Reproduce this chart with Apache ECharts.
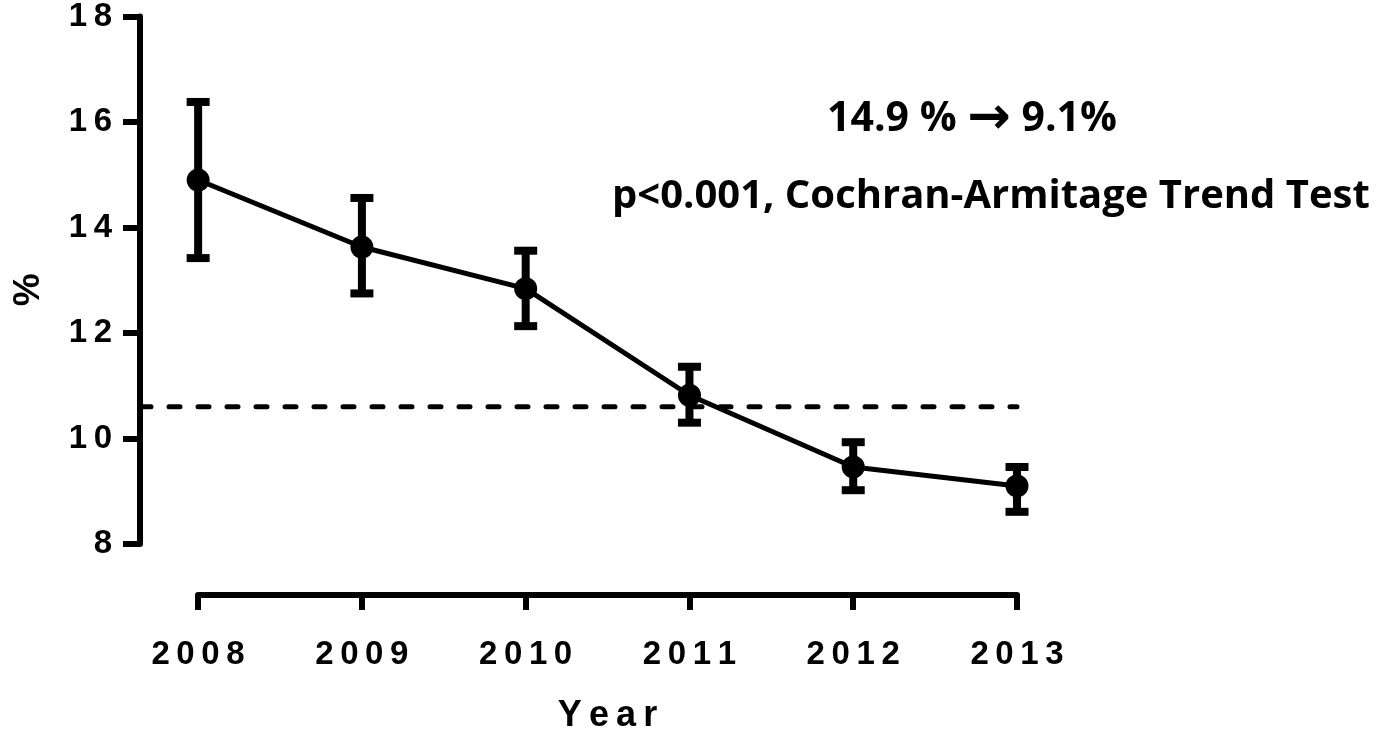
<!DOCTYPE html>
<html>
<head>
<meta charset="utf-8">
<script src="https://cdn.jsdelivr.net/npm/echarts@6/dist/echarts.min.js"></script>
<style>
  html, body { margin: 0; padding: 0; background: #fff; }
  #chart { width: 1377px; height: 739px; }
</style>
</head>
<body>
<div id="chart"></div>
<script>
// Annual prevalence (%) with 95% confidence limits
const years = [2008, 2009, 2010, 2011, 2012, 2013];
const rate = [14.9, 13.63, 12.84, 10.82, 9.46, 9.1];
const lower = [13.42, 12.75, 12.13, 10.30, 9.02, 8.61];
const upper = [16.38, 14.56, 13.56, 11.36, 9.93, 9.46];

// Plotted x range (a little padding before the first year) and reference level
const xRange = [2007.645, 2013];
const refLevel = 10.6;

// Y axis ticks
const yTicks = [8, 10, 12, 14, 16, 18];

const annotationTop = '14.9 % {arrow|\u2192} 9.1%';
const annotationBottom = 'p<0.001, Cochran-Armitage Trend Test';

// letter-spaced axis text
const spaced = s => String(s).split('').join('\u2009');

const chart = echarts.init(document.getElementById('chart'), null, { renderer: 'canvas' });

const axisFont = {
  fontFamily: '"Liberation Sans", Arial, sans-serif',
  fontWeight: 'bold',
  color: '#000'
};
const black = '#000';

const option = {
  backgroundColor: '#fff',
  animation: false,
  grid: [
    // plotting area, spans from the y axis
    { left: 140, right: 360, top: 16, bottom: 195, containLabel: false },
    // the detached year axis, from first to last year
    { left: 198, right: 360, top: 16, bottom: 195, containLabel: false }
  ],
  xAxis: [
    {
      gridIndex: 0,
      type: 'value',
      min: xRange[0],
      max: xRange[1],
      show: false
    },
    {
      gridIndex: 1,
      type: 'value',
      min: years[0],
      max: years[years.length - 1],
      interval: 1,
      offset: 59,
      name: spaced('Year'),
      nameLocation: 'middle',
      nameGap: 103,
      nameTextStyle: Object.assign({ fontSize: 36 }, axisFont),
      axisLine: { show: true, lineStyle: { color: black, width: 6 } },
      axisTick: { show: true, inside: false, length: 15, lineStyle: { color: black, width: 6 } },
      axisLabel: Object.assign({ fontSize: 33, margin: 43, formatter: v => spaced(v) }, axisFont),
      splitLine: { show: false }
    }
  ],
  yAxis: [
    {
      gridIndex: 0,
      type: 'value',
      min: yTicks[0],
      max: yTicks[yTicks.length - 1],
      interval: 2,
      name: '%',
      nameLocation: 'middle',
      nameGap: 93,
      nameTextStyle: Object.assign({ fontSize: 37, padding: [0, 19, 0, 0] }, axisFont),
      axisLine: { show: true, lineStyle: { color: black, width: 6 } },
      axisTick: { show: true, inside: false, length: 17, lineStyle: { color: black, width: 6 } },
      axisLabel: Object.assign({ fontSize: 33, margin: 28, formatter: v => spaced(v) }, axisFont),
      splitLine: { show: false }
    },
    {
      gridIndex: 1,
      type: 'value',
      min: yTicks[0],
      max: yTicks[yTicks.length - 1],
      show: false
    }
  ],
  series: [
    {
      name: 'reference',
      type: 'line',
      xAxisIndex: 0,
      yAxisIndex: 0,
      silent: true,
      symbol: 'none',
      data: xRange.map(x => [x, refLevel]),
      lineStyle: { color: black, width: 5, type: [11, 18], cap: 'round' },
      z: 1
    },
    {
      name: 'ci',
      type: 'custom',
      xAxisIndex: 0,
      yAxisIndex: 0,
      clip: false,
      silent: true,
      data: years.map((y, i) => [y, lower[i], upper[i]]),
      renderItem: (params, api) => {
        const lo = api.coord([api.value(0), api.value(1)]);
        const hi = api.coord([api.value(0), api.value(2)]);
        const half = 11.5;
        const style = { stroke: black, lineWidth: 8, fill: null };
        return {
          type: 'group',
          children: [
            { type: 'line', shape: { x1: lo[0], y1: lo[1], x2: hi[0], y2: hi[1] }, style: style },
            { type: 'line', shape: { x1: lo[0] - half, y1: lo[1], x2: lo[0] + half, y2: lo[1] }, style: style },
            { type: 'line', shape: { x1: hi[0] - half, y1: hi[1], x2: hi[0] + half, y2: hi[1] }, style: style }
          ]
        };
      },
      z: 2
    },
    {
      name: 'rate',
      type: 'line',
      xAxisIndex: 0,
      yAxisIndex: 0,
      clip: false,
      symbol: 'circle',
      symbolSize: 23,
      data: years.map((y, i) => [y, rate[i]]),
      lineStyle: { color: black, width: 5 },
      itemStyle: { color: black },
      z: 3
    }
  ],
  graphic: [
    {
      type: 'text',
      left: 827,
      top: 93,
      style: {
        text: annotationTop,
        fontFamily: '"Open Sans", sans-serif',
        fontWeight: 'bold',
        fontSize: 41,
        lineHeight: 41,
        fill: black,
        rich: {
          arrow: {
            fontFamily: '"DejaVu Sans", sans-serif',
            fontWeight: 'bold',
            fontSize: 52,
            lineHeight: 41,
            fill: black
          }
        }
      }
    },
    {
      type: 'text',
      left: 612,
      top: 177,
      style: {
        text: annotationBottom,
        fontFamily: '"Open Sans", sans-serif',
        fontWeight: 'bold',
        fontSize: 40,
        fill: black
      }
    }
  ]
};

chart.setOption(option);
</script>
</body>
</html>
